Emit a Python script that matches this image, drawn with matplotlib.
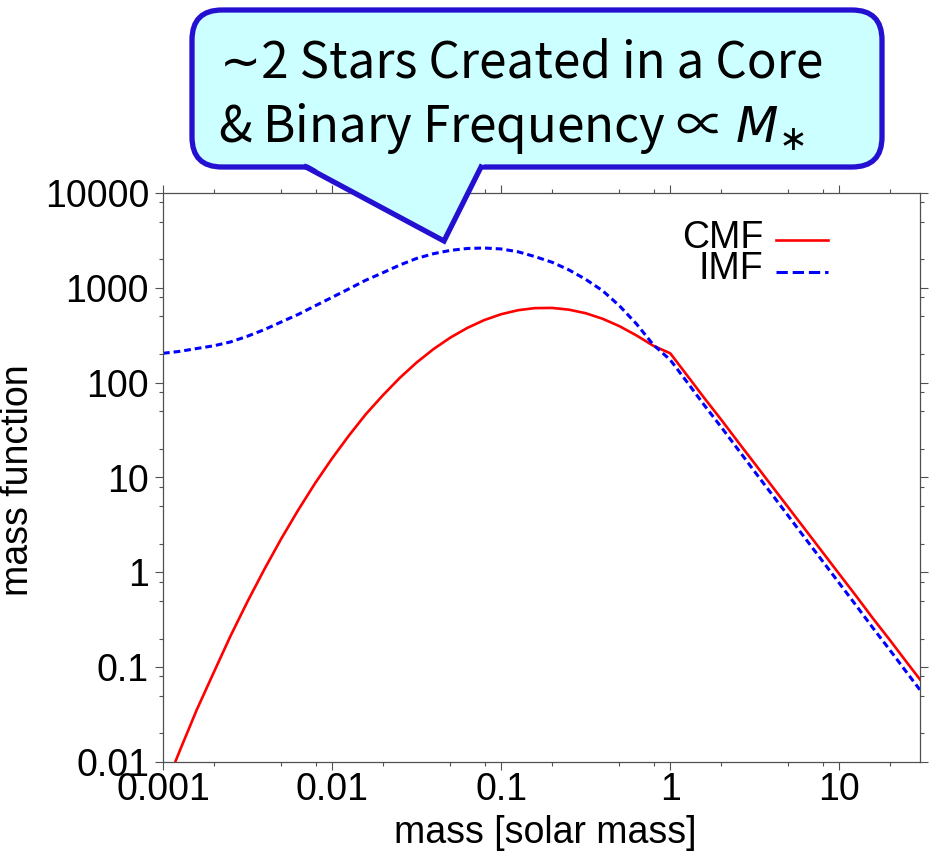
import matplotlib
matplotlib.use("Agg")
import matplotlib.pyplot as plt
from matplotlib.patches import FancyBboxPatch, Polygon
from matplotlib.ticker import LogLocator, NullFormatter

plt.rcParams['font.family'] = ['Liberation Sans', 'DejaVu Sans']
plt.rcParams['font.size'] = 27
plt.rcParams['mathtext.fontset'] = 'dejavusans'

# masses in solar units, 10 points per decade
mass = [0.001, 0.00126, 0.00158, 0.002, 0.00251, 0.00316, 0.00398, 0.00501, 0.00631, 0.00794,
        0.01, 0.0126, 0.0158, 0.02, 0.0251, 0.0316, 0.0398, 0.0501, 0.0631, 0.0794,
        0.1, 0.126, 0.158, 0.2, 0.251, 0.316, 0.398, 0.501, 0.631, 0.794,
        1.0, 1.26, 1.58, 2.0, 2.51, 3.16, 3.98, 5.01, 6.31, 7.94,
        10.0, 12.6, 15.8, 20.0, 25.1, 30.0]

# core mass function
cmf = [0.0048, 0.0133, 0.0352, 0.0887, 0.214, 0.492, 1.08, 2.27, 4.55, 8.71,
       15.9, 27.8, 46.3, 73.8, 112, 163, 226, 299, 378, 457,
       527, 581, 611, 614, 589, 540, 472, 394, 315, 245,
       204, 119, 69.8, 40.8, 23.9, 14.0, 8.18, 4.79, 2.80, 1.64,
       0.957, 0.560, 0.327, 0.191, 0.112, 0.0741]

# initial mass function
imf = [204, 214, 229, 245, 269, 309, 363, 437, 525, 646,
       794, 977, 1202, 1445, 1738, 2042, 2291, 2483, 2600, 2630,
       2570, 2399, 2138, 1862, 1549, 1230, 933, 646, 417, 251,
       174, 101, 58.7, 34.1, 19.9, 11.5, 6.70, 3.90, 2.26, 1.32,
       0.766, 0.445, 0.259, 0.150, 0.0875, 0.0575]

xticks = [0.001, 0.01, 0.1, 1, 10]
xticklabels = ['0.001', '0.01', '0.1', '1', '10']
yticks = [0.01, 0.1, 1, 10, 100, 1000, 10000]
yticklabels = ['0.01', '0.1', '1', '10', '100', '1000', '10000']

W, H = 932, 855
fig = plt.figure(figsize=(W / 100, H / 100), dpi=100)
ax = fig.add_axes([163 / W, (H - 762) / H, 757 / W, 569 / H])

ax.plot(mass, cmf, color='#ff0000', lw=1.9, label='CMF')
ax.plot(mass, imf, color='#0000ff', lw=2.2, dashes=(2.2, 1.3), label='IMF')

ax.set_xscale('log')
ax.set_yscale('log')
ax.set_xlim(0.001, 30)
ax.set_ylim(0.01, 10000)
ax.set_xticks(xticks, xticklabels)
ax.set_yticks(yticks, yticklabels)
ax.xaxis.set_minor_locator(LogLocator(base=10, subs=[2, 5, 8]))
ax.yaxis.set_minor_locator(LogLocator(base=10, subs=[2, 5, 8]))
ax.xaxis.set_minor_formatter(NullFormatter())
ax.yaxis.set_minor_formatter(NullFormatter())
ax.tick_params(which='both', direction='out', top=True, right=True, color='#505050', width=0.8)
ax.tick_params(which='major', length=6)
ax.tick_params(axis='x', which='major', pad=1)
ax.tick_params(axis='y', which='major', pad=4)
ax.tick_params(which='minor', length=3)
for s in ax.spines.values():
    s.set_color('#505050')
    s.set_linewidth(0.9)

ax.set_xlabel('mass [solar mass]')
ax.set_ylabel('mass function')
ax.xaxis.set_label_coords(0.505, -0.094)
ax.yaxis.set_label_coords(-0.168, 0.496)

# key, text on the left of the sample line
for lab, line, yk in [('CMF', ax.lines[0], 0.921), ('IMF', ax.lines[1], 0.866)]:
    ax.text(0.793, yk, lab, ha='right', va='center', transform=ax.transAxes)
    ax.plot([0.81, 0.878], [yk - 0.004, yk - 0.004], transform=ax.transAxes,
            color=line.get_color(), lw=line.get_linewidth(),
            linestyle=line.get_linestyle())

# speech bubble drawn in pixel coordinates over the whole figure
ov = fig.add_axes([0, 0, 1, 1], zorder=10)
ov.set_xlim(0, W)
ov.set_ylim(H, 0)
ov.axis('off')
ov.patch.set_alpha(0)

edge = '#2410d0'
fill = '#ccffff'
box = FancyBboxPatch((192, 10), 690, 157, boxstyle='round,pad=0,rounding_size=30',
                     facecolor=fill, edgecolor=edge, lw=3.8)
ov.add_patch(box)
ov.add_patch(Polygon([(300, 160), (444, 241), (486, 160)], closed=True,
                     facecolor=fill, edgecolor='none'))
ov.plot([306, 444, 481], [167, 241, 167], color=edge, lw=3.8, solid_joinstyle='miter')

cjk = ['Noto Sans CJK JP', 'DejaVu Sans']
ov.text(220, 77, '∼2 Stars Created in a Core', fontsize=35.5, family=cjk, va='baseline')
ov.text(218, 142, r'& Binary Frequency ∝ $M_{\ast}$', fontsize=35.5, family=cjk, va='baseline')

fig.savefig('out.png', dpi=100)
